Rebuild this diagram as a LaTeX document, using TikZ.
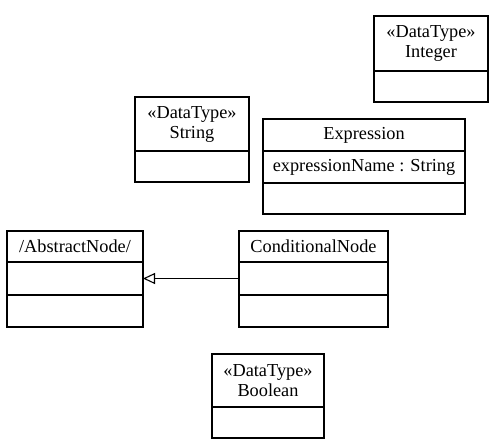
\documentclass[tikz,border=0pt]{standalone}
\usepackage{fontspec}
\setmainfont{Liberation Serif}
\usetikzlibrary{arrows.meta}
\begin{document}
\begin{tikzpicture}[x=1pt,y=-1pt,
  cls/.style={draw, line width=1.1pt, inner sep=0pt, outer sep=0pt, anchor=north west, align=center,
    font=\fontsize{18.3}{20}\selectfont},
  cmp/.style={draw, line width=1.1pt, inner sep=0pt, outer sep=0pt, anchor=north,
    font=\fontsize{18.3}{20}\selectfont},
  gen/.style={line width=1.1pt, -{Triangle[open, length=12pt, width=11pt, line width=1.1pt]}}]
\useasboundingbox (0,0) rectangle (496,445);
% Integer
\node[cls, minimum width=114pt, minimum height=55pt] (intH) at (374,16) {«DataType»\\Integer};
\node[cmp, minimum width=114pt, minimum height=31pt] (intA) at (intH.south) {};
% String
\node[cls, minimum width=114pt, minimum height=54pt] (strH) at (135,97) {«DataType»\\String};
\node[cmp, minimum width=114pt, minimum height=31pt] (strA) at (strH.south) {};
% Expression
\node[cls, minimum width=202pt, minimum height=32pt] (expH) at (263,119) {Expression};
\node[cmp, minimum width=202pt, minimum height=32pt] (expA) at (expH.south) {expressionName : String};
\node[cmp, minimum width=202pt, minimum height=31pt] (expO) at (expA.south) {};
% AbstractNode
\node[cls, minimum width=136pt, minimum height=31pt] (absH) at (7,231) {/AbstractNode/};
\node[cmp, minimum width=136pt, minimum height=33pt] (absA) at (absH.south) {};
\node[cmp, minimum width=136pt, minimum height=32pt] (absO) at (absA.south) {};
% ConditionalNode
\node[cls, minimum width=149pt, minimum height=31pt] (conH) at (239,231) {ConditionalNode};
\node[cmp, minimum width=149pt, minimum height=33pt] (conA) at (conH.south) {};
\node[cmp, minimum width=149pt, minimum height=32pt] (conO) at (conA.south) {};
% Boolean
\node[cls, minimum width=112pt, minimum height=53pt] (booH) at (212,354) {«DataType»\\Boolean};
\node[cmp, minimum width=112pt, minimum height=31pt] (booA) at (booH.south) {};
% generalization
\draw[gen] (conA.west) -- (absA.east);
\end{tikzpicture}
\end{document}
